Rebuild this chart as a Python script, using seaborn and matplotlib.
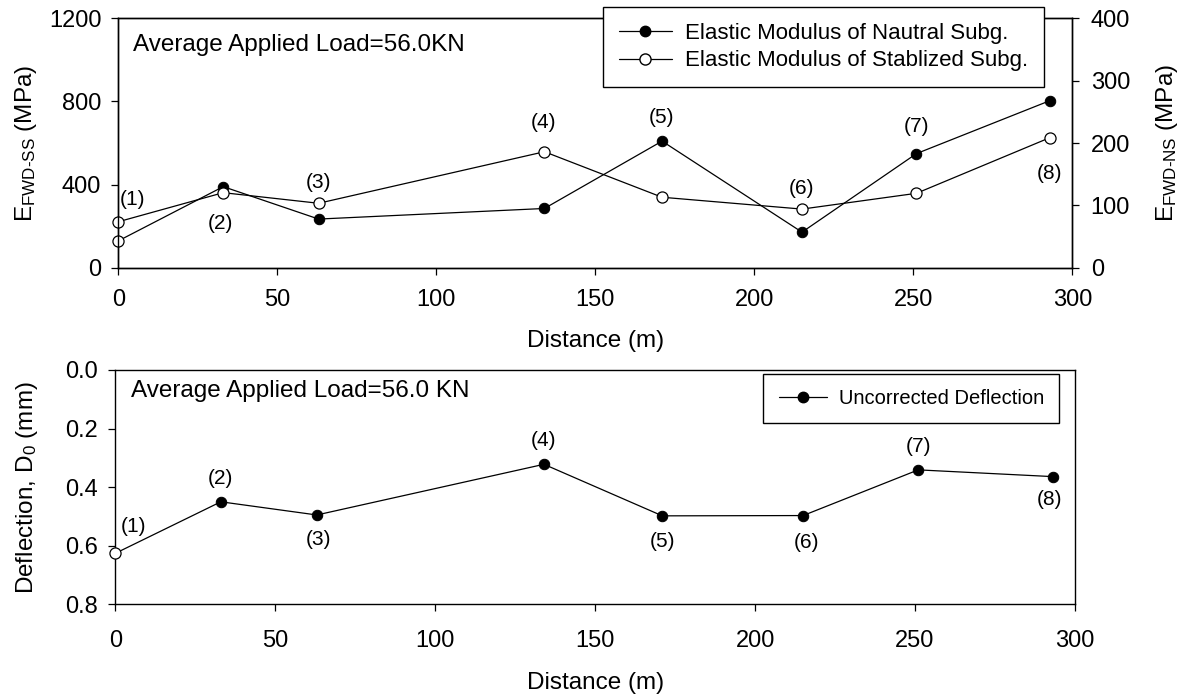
import matplotlib
matplotlib.use("Agg")
import matplotlib.pyplot as plt
from matplotlib.lines import Line2D
import seaborn as sns
import pandas as pd

# Survey stations along the test section
distance_m = [0, 33, 63, 134, 171, 215, 251, 293]
station_labels = ["(1)", "(2)", "(3)", "(4)", "(5)", "(6)", "(7)", "(8)"]

# Back-calculated elastic moduli (MPa)
e_natural = [43, 130, 78, 95, 203, 57, 183, 268]        # right axis
e_stabilized = [221, 361, 310, 558, 339, 282, 358, 626]  # left axis

# Uncorrected central deflection D0 (mm)
d0_mm = [0.626, 0.450, 0.495, 0.322, 0.498, 0.497, 0.341, 0.364]

x_ticks = [0, 50, 100, 150, 200, 250, 300]
left_ticks = [0, 400, 800, 1200]
right_ticks = [0, 100, 200, 300, 400]
defl_ticks = [0.0, 0.2, 0.4, 0.6, 0.8]

sns.set_theme(style="ticks")
plt.rcParams["font.family"] = ["Liberation Sans", "DejaVu Sans"]
plt.rcParams["mathtext.fontset"] = "custom"
plt.rcParams["mathtext.rm"] = "Liberation Sans"
plt.rcParams["mathtext.it"] = "Liberation Sans"
plt.rcParams["mathtext.default"] = "regular"
plt.rcParams["axes.edgecolor"] = "black"
plt.rcParams["axes.linewidth"] = 1.0
plt.rcParams["text.color"] = "black"
plt.rcParams["axes.labelcolor"] = "black"
plt.rcParams["xtick.color"] = "black"
plt.rcParams["ytick.color"] = "black"

df = pd.DataFrame({"dist": distance_m, "ens": e_natural,
                   "ess": e_stabilized, "d0": d0_mm})

W, H = 1182, 696
fig = plt.figure(figsize=(W / 100, H / 100), dpi=100)

TICK_FS = 17
LABEL_FS = 17.5
NOTE_FS = 15
MS = 7.5
LW = 0.9

def style_axis(a):
    a.tick_params(direction="out", length=5.2, width=0.9, labelsize=TICK_FS,
                  colors="black")

# ---------------- top panel: elastic moduli ----------------
ax = fig.add_axes([118.3 / W, 1 - 267.7 / H, 954 / W, 249.4 / H])
axr = ax.twinx()

sns.lineplot(data=df, x="dist", y="ens", ax=axr, color="black", lw=LW,
             marker="o", markersize=MS, markerfacecolor="black",
             markeredgecolor="black", markevery=list(range(1, len(df))),
             clip_on=False)
# first station of the natural subgrade drawn hollow
axr.plot(distance_m[:1], e_natural[:1], marker="o", ms=MS + 0.5, mfc="white",
         mec="black", mew=0.9, ls="none", clip_on=False, zorder=5)

sns.lineplot(data=df, x="dist", y="ess", ax=ax, color="black", lw=LW,
             marker="o", markersize=MS + 0.5, markerfacecolor="white",
             markeredgecolor="black", markeredgewidth=0.9, clip_on=False)

ax.set_zorder(axr.get_zorder() + 1)
ax.patch.set_visible(False)

ax.set_xlim(0, 300)
ax.set_ylim(0, 1200)
axr.set_ylim(0, 400)
ax.set_xticks(x_ticks)
ax.set_yticks(left_ticks)
axr.set_yticks(right_ticks)
style_axis(ax)
style_axis(axr)
ax.tick_params(axis="x", pad=10)
ax.tick_params(axis="y", pad=7)
axr.tick_params(axis="y", pad=8)

ax.set_xlabel("Distance (m)", fontsize=LABEL_FS, labelpad=14)
ax.set_ylabel(r"E$_{\mathregular{FWD\text{-}SS}}$ (MPa)", fontsize=LABEL_FS,
              labelpad=7)
axr.set_ylabel(r"E$_{\mathregular{FWD\text{-}NS}}$ (MPa)", fontsize=LABEL_FS,
               labelpad=17)

ax.text(133.3 / W, 1 - 45 / H, "Average Applied Load=56.0KN",
        transform=fig.transFigure, fontsize=LABEL_FS, va="center", ha="left")

top_offsets = [(14, 22), (-3, -31), (0, 21), (-1, 29),
               (-1, 80), (0, 21), (0, 67), (-1, -36)]
for xi, yi, lab, (dx, dy) in zip(distance_m, e_stabilized, station_labels,
                                 top_offsets):
    ax.annotate(lab, (xi, yi), xytext=(dx, dy), textcoords="offset pixels",
                ha="center", va="center", fontsize=NOTE_FS,
                annotation_clip=False)

handles = [
    Line2D([], [], color="black", lw=LW, marker="o", ms=MS, mfc="black",
           mec="black"),
    Line2D([], [], color="black", lw=LW, marker="o", ms=MS + 0.5, mfc="white",
           mec="black"),
]
leg = ax.legend(handles, ["Elastic Modulus of Nautral Subg.",
                          "Elastic Modulus of Stablized Subg."],
                loc="upper right", bbox_to_anchor=(1044.3 / W, 1 - 6.7 / H),
                bbox_transform=fig.transFigure, borderaxespad=0,
                fontsize=16, frameon=True, fancybox=False, framealpha=1,
                edgecolor="black", facecolor="white", handlelength=2.4,
                handletextpad=0.6, labelspacing=0.3, borderpad=0.72)
leg.get_frame().set_linewidth(1.0)
leg.set_zorder(10)

# ---------------- bottom panel: deflection ----------------
bx = fig.add_axes([115.3 / W, 1 - 604.3 / H, 959.7 / W, 234.3 / H])
sns.lineplot(data=df, x="dist", y="d0", ax=bx, color="black", lw=LW,
             marker="o", markersize=MS, markerfacecolor="black",
             markeredgecolor="black", markevery=list(range(1, len(df))),
             clip_on=False)
bx.plot(distance_m[:1], d0_mm[:1], marker="o", ms=MS + 0.5, mfc="white",
        mec="black", mew=0.9, ls="none", clip_on=False, zorder=5)

bx.set_xlim(0, 300)
bx.set_ylim(0.8, 0.0)
bx.set_xticks(x_ticks)
bx.set_yticks(defl_ticks)
bx.set_yticklabels([f"{v:.1f}" for v in defl_ticks])
style_axis(bx)
bx.tick_params(axis="x", pad=13)
bx.tick_params(axis="y", pad=7)
bx.set_xlabel("Distance (m)", fontsize=LABEL_FS, labelpad=15)
bx.set_ylabel("Deflection, D$_0$ (mm)", fontsize=LABEL_FS, labelpad=18)

bx.text(131 / W, 1 - 391 / H, "Average Applied Load=56.0 KN",
        transform=fig.transFigure, fontsize=LABEL_FS, va="center", ha="left")

bottom_offsets = [(18, 27), (0, 23), (2, -25), (0, 24),
                  (0, -26), (3, -27), (0, 23), (-3, -23)]
for xi, yi, lab, (dx, dy) in zip(distance_m, d0_mm, station_labels,
                                 bottom_offsets):
    bx.annotate(lab, (xi, yi), xytext=(dx, dy), textcoords="offset pixels",
                ha="center", va="center", fontsize=NOTE_FS,
                annotation_clip=False)

bleg = bx.legend([Line2D([], [], color="black", lw=LW, marker="o", ms=MS,
                         mfc="black", mec="black")],
                 ["Uncorrected Deflection"], loc="upper right",
                 bbox_to_anchor=(1059.3 / W, 1 - 374 / H),
                 bbox_transform=fig.transFigure, borderaxespad=0,
                 fontsize=14.5, frameon=True, fancybox=False, framealpha=1,
                 edgecolor="black", facecolor="white", handlelength=2.4,
                 handletextpad=0.6, borderpad=0.75)
bleg.get_frame().set_linewidth(1.0)

fig.savefig("out.png", dpi=100)
